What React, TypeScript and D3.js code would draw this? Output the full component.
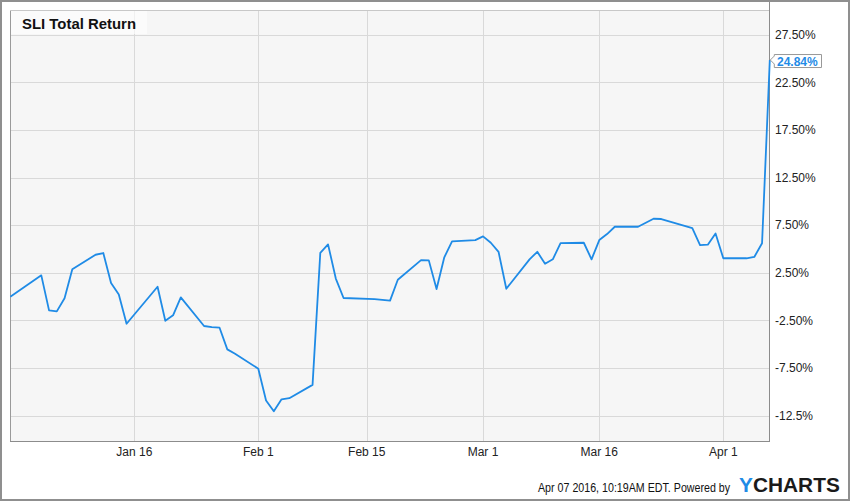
import React from "react";
import * as d3 from "d3";

const dates: string[] = [
  "2015-12-31","2016-01-04","2016-01-05","2016-01-06","2016-01-07","2016-01-08",
  "2016-01-11","2016-01-12","2016-01-13","2016-01-14","2016-01-15",
  "2016-01-19","2016-01-20","2016-01-21","2016-01-22",
  "2016-01-25","2016-01-26","2016-01-27","2016-01-28","2016-01-29",
  "2016-02-01","2016-02-02","2016-02-03","2016-02-04","2016-02-05",
  "2016-02-08","2016-02-09","2016-02-10","2016-02-11","2016-02-12",
  "2016-02-16","2016-02-17","2016-02-18","2016-02-19",
  "2016-02-22","2016-02-23","2016-02-24","2016-02-25","2016-02-26",
  "2016-02-29","2016-03-01","2016-03-02","2016-03-03","2016-03-04",
  "2016-03-07","2016-03-08","2016-03-09","2016-03-10","2016-03-11",
  "2016-03-14","2016-03-15","2016-03-16","2016-03-17","2016-03-18",
  "2016-03-21","2016-03-22","2016-03-23","2016-03-24",
  "2016-03-28","2016-03-29","2016-03-30","2016-03-31","2016-04-01",
  "2016-04-04","2016-04-05","2016-04-06","2016-04-07",
];

const totalReturn: number[] = [
  0, 2.24, -1.44, -1.54, -0.17, 2.87,
  4.4, 4.58, 1.43, 0.22, -2.84,
  1.04, -2.53, -1.96, -0.07,
  -3.08, -3.2, -3.26, -5.53, -6.0,
  -7.56, -10.9, -12.03, -10.77, -10.66,
  -9.26, 4.6, 5.49, 1.9, -0.14,
  -0.25, -0.33, -0.42, 1.78,
  3.84, 3.81, 0.8, 4.13, 5.8,
  5.94, 6.33, 5.66, 4.71, 0.83,
  3.92, 4.71, 3.45, 3.92, 5.62,
  5.66, 3.92, 5.94, 6.57, 7.34,
  7.34, 7.76, 8.18, 8.15,
  7.2, 5.42, 5.46, 6.64, 4.03,
  4.03, 4.17, 5.6, 24.84,
];

const yTicks: number[] = [27.5, 22.5, 17.5, 12.5, 7.5, 2.5, -2.5, -7.5, -12.5];
const yTickLabels: string[] = ["27.50%", "22.50%", "17.50%", "12.50%", "7.50%", "2.50%", "-2.50%", "-7.50%", "-12.5%"];
const xTickDates: string[] = ["2016-01-16", "2016-02-01", "2016-02-15", "2016-03-01", "2016-03-16", "2016-04-01"];
const xTickLabels: string[] = ["Jan 16", "Feb 1", "Feb 15", "Mar 1", "Mar 16", "Apr 1"];

const title = "SLI Total Return";
const lastLabel = "24.84%";
const footer = "Apr 07 2016, 10:19AM EDT.  Powered by";

const W = 850;
const H = 501;
const L = 10, R = 769, T = 10, B = 441;
const BLUE = "#1f8be6";
const FONT = "'Liberation Sans', Arial, Helvetica, sans-serif";

export default function App() {
  const parse = (s: string) => new Date(s + "T00:00:00Z");
  const x = d3.scaleUtc()
    .domain([parse("2015-12-31"), parse("2016-04-07")])
    .range([10.3, 769.8]);
  const y = d3.scaleLinear().domain([-15.15, 30.09]).range([B, T]);

  const data = dates.map((d, i) => ({ d: parse(d), v: totalReturn[i] }));
  const line = d3.line<{ d: Date; v: number }>()
    .x((p) => x(p.d))
    .y((p) => y(p.v));

  const last = data[data.length - 1];
  const lx = x(last.d);
  const ly = y(last.v);

  return (
    <div style={{ position: "fixed", left: 0, top: 0 }}>
      <svg width={W} height={H} style={{ display: "block", fontFamily: FONT }}>
        <rect x={0} y={0} width={W} height={H} fill="#ffffff" />
        <rect x={L} y={T} width={R - L} height={B - T} fill="#f6f6f6" />
        {yTicks.map((t) => (
          <line key={"gy" + t} x1={L} x2={R} y1={Math.round(y(t)) + 0.5} y2={Math.round(y(t)) + 0.5} stroke="#d9d9d9" strokeWidth={1} />
        ))}
        {xTickDates.map((t) => (
          <line key={"gx" + t} x1={Math.round(x(parse(t))) + 0.5} x2={Math.round(x(parse(t))) + 0.5} y1={T} y2={B} stroke="#d9d9d9" strokeWidth={1} />
        ))}
        {/* title box */}
        <rect x={L} y={T} width={137} height={24} fill="#ffffff" fillOpacity={0.6} />
        <text x={22} y={28.5} fontSize={15} fontWeight="bold" fill="#111" textLength={114} lengthAdjust="spacingAndGlyphs">{title}</text>
        {/* frame lines */}
        <line x1={L + 0.5} x2={L + 0.5} y1={T} y2={B} stroke="#9a9a9a" />
        <line x1={L} x2={R} y1={T + 0.5} y2={T + 0.5} stroke="#c8c8c8" />
        <line x1={L} x2={R} y1={B + 0.5} y2={B + 0.5} stroke="#8c8c8c" />
        <line x1={R + 0.5} x2={R + 0.5} y1={0} y2={B + 1} stroke="#8c8c8c" />
        {/* series */}
        <path d={line(data) || ""} fill="none" stroke={BLUE} strokeWidth={1.8} strokeLinejoin="round" />
        {/* y labels */}
        {yTicks.map((t, i) => (
          <text key={"ly" + t} x={775} y={y(t)} dy="0.35em" fontSize={12} fill="#222">{yTickLabels[i]}</text>
        ))}
        {/* x labels */}
        {xTickDates.map((t, i) => (
          <text key={"lx" + t} x={x(parse(t))} y={456} textAnchor="middle" fontSize={12} fill="#222">{xTickLabels[i]}</text>
        ))}
        {/* last value label */}
        <path
          d={`M${lx + 0.5},${ly} L${lx + 4.5},${ly - 4} L${lx + 4.5},${ly - 5.5} L${821.5},${ly - 5.5} L${821.5},${ly + 7.5} L${lx + 4.5},${ly + 7.5} L${lx + 4.5},${ly + 4} Z`}
          fill="#ffffff"
          stroke="#999"
          strokeWidth={1}
        />
        <text x={777} y={ly + 5.5} fontSize={12} fontWeight="bold" fill={BLUE}>{lastLabel}</text>
        {/* footer */}
        <g transform="translate(538,492) scale(0.89,1)">
          <text x={0} y={0} fontSize={12} fill="#111">{footer}</text>
        </g>
        <g transform="translate(739,492) scale(1.07,1)">
          <text x={0} y={0} fontSize={19.5} fontWeight="bold">
            <tspan fill={BLUE}>Y</tspan>
            <tspan fill="#1a1a1a">CHARTS</tspan>
          </text>
        </g>
        {/* outer border */}
        <rect x={1} y={1} width={W - 2} height={H - 2} fill="none" stroke="#8f8f8f" strokeWidth={2} />
      </svg>
    </div>
  );
}
